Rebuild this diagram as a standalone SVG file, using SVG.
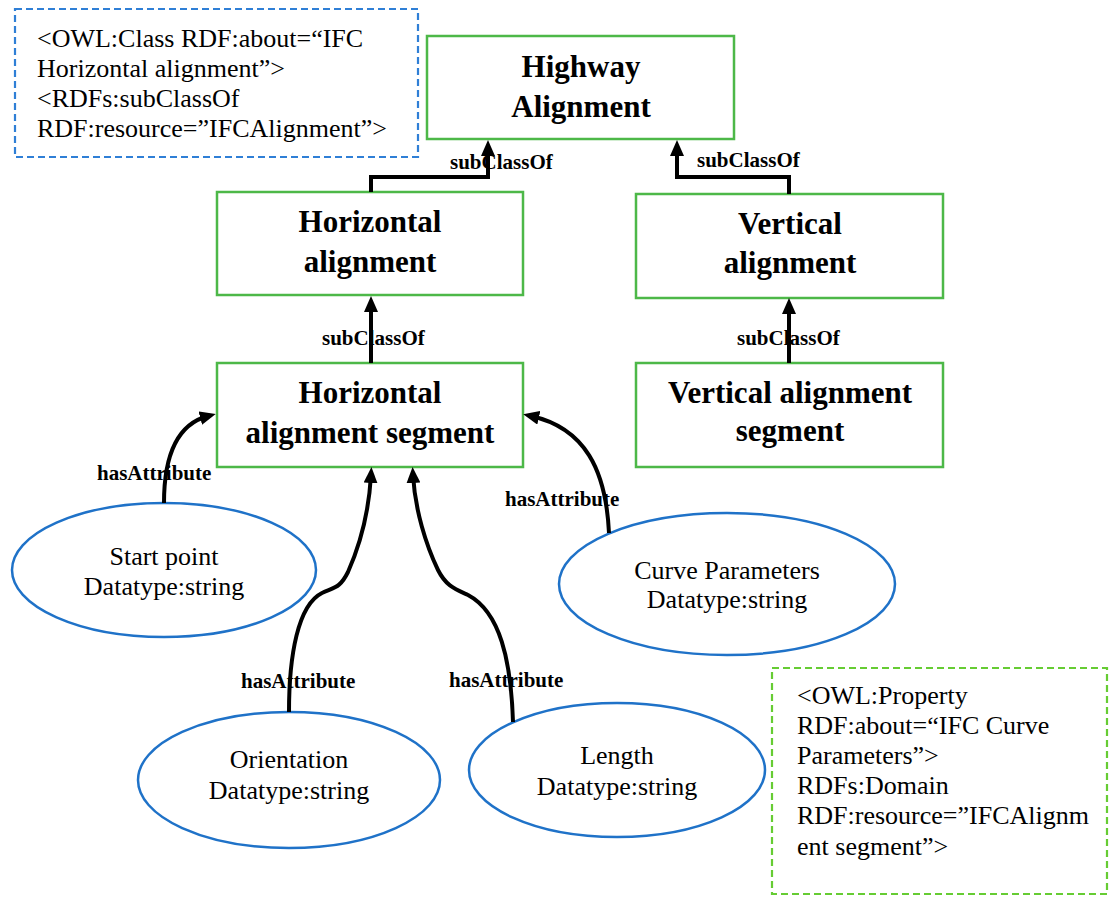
<svg xmlns="http://www.w3.org/2000/svg" width="1111" height="900" viewBox="0 0 1111 900">
  <style>
    .cls { fill: #ffffff; stroke: #4db848; stroke-width: 2.5; }
    .attr { fill: #ffffff; stroke: #1f72c8; stroke-width: 2.5; }
    .note-blue { fill: #ffffff; stroke: #2f7fd6; stroke-width: 2.2; stroke-dasharray: 7 4; }
    .note-green { fill: #ffffff; stroke: #66cc33; stroke-width: 2.2; stroke-dasharray: 7 4; }
    .title { font-family: "Liberation Serif", "Times New Roman", serif; font-weight: bold; font-size: 31px; fill: #000; text-anchor: middle; }
    .attr-text { font-family: "Liberation Serif", "Times New Roman", serif; font-size: 26px; fill: #000; text-anchor: middle; }
    .note-text { font-family: "Liberation Serif", "Times New Roman", serif; font-size: 26px; fill: #000; }
    .lbl { font-family: "Liberation Serif", "Times New Roman", serif; font-weight: bold; font-size: 21px; fill: #000; }
    .edge { fill: none; stroke: #000; stroke-width: 4; marker-end: url(#arrow); }
  </style>
  <defs>
    <marker id="arrow" viewBox="0 0 16 14" refX="8" refY="7" markerWidth="16" markerHeight="14" markerUnits="userSpaceOnUse" orient="auto">
      <path d="M0,0 L16,7 L0,14 z" fill="#000"/>
    </marker>
  </defs>

  <g id="note-class">
    <rect class="note-blue" x="15" y="9" width="403" height="148"/>
    <text class="note-text" x="37" y="47">&lt;OWL:Class RDF:about=“IFC</text>
    <text class="note-text" x="37" y="77">Horizontal alignment”&gt;</text>
    <text class="note-text" x="37" y="107">&lt;RDFs:subClassOf</text>
    <text class="note-text" x="37" y="137">RDF:resource=”IFCAlignment”&gt;</text>
  </g>

  <g id="node-highway">
    <rect class="cls" x="427" y="36" width="307" height="103"/>
    <text class="title" x="581" y="77">Highway</text>
    <text class="title" x="581" y="117">Alignment</text>
  </g>

  <g id="node-horizontal">
    <rect class="cls" x="217" y="192" width="306" height="103"/>
    <text class="title" x="370" y="232">Horizontal</text>
    <text class="title" x="370" y="272">alignment</text>
  </g>

  <g id="node-vertical">
    <rect class="cls" x="636" y="194" width="307" height="104"/>
    <text class="title" x="790" y="234">Vertical</text>
    <text class="title" x="790" y="273">alignment</text>
  </g>

  <g id="node-horizontal-segment">
    <rect class="cls" x="217" y="363" width="306" height="104"/>
    <text class="title" x="370" y="403">Horizontal</text>
    <text class="title" x="370" y="443">alignment segment</text>
  </g>

  <g id="node-vertical-segment">
    <rect class="cls" x="636" y="363" width="307" height="104"/>
    <text class="title" x="790" y="403">Vertical alignment</text>
    <text class="title" x="790" y="441">segment</text>
  </g>

  <g id="node-start-point">
    <ellipse class="attr" cx="164" cy="570" rx="152" ry="67"/>
    <text class="attr-text" x="164" y="565">Start point</text>
    <text class="attr-text" x="164" y="595">Datatype:string</text>
  </g>

  <g id="node-curve-parameters">
    <ellipse class="attr" cx="727" cy="584" rx="168" ry="71"/>
    <text class="attr-text" x="727" y="579">Curve Parameters</text>
    <text class="attr-text" x="727" y="608">Datatype:string</text>
  </g>

  <g id="node-orientation">
    <ellipse class="attr" cx="289" cy="780" rx="151" ry="68"/>
    <text class="attr-text" x="289" y="768">Orientation</text>
    <text class="attr-text" x="289" y="799">Datatype:string</text>
  </g>

  <g id="node-length">
    <ellipse class="attr" cx="617" cy="770" rx="148" ry="67"/>
    <text class="attr-text" x="617" y="764">Length</text>
    <text class="attr-text" x="617" y="795">Datatype:string</text>
  </g>

  <g id="note-property">
    <rect class="note-green" x="772" y="668" width="335" height="226"/>
    <text class="note-text" x="797" y="704">&lt;OWL:Property</text>
    <text class="note-text" x="797" y="734">RDF:about=“IFC Curve</text>
    <text class="note-text" x="797" y="764">Parameters”&gt;</text>
    <text class="note-text" x="797" y="794">RDFs:Domain</text>
    <text class="note-text" x="797" y="824">RDF:resource=”IFCAlignm</text>
    <text class="note-text" x="797" y="855">ent segment”&gt;</text>
  </g>

  <g id="connectors">
    <text class="lbl" x="450" y="169">subClassOf</text>
    <text class="lbl" x="697" y="167">subClassOf</text>
    <text class="lbl" x="322" y="345">subClassOf</text>
    <text class="lbl" x="737" y="345">subClassOf</text>
    <text class="lbl" x="97" y="480">hasAttribute</text>
    <text class="lbl" x="505" y="506">hasAttribute</text>
    <text class="lbl" x="241" y="688">hasAttribute</text>
    <text class="lbl" x="449" y="687">hasAttribute</text>

    <path class="edge" d="M371,192 L371,177 L488,177 L488,148"/>
    <path class="edge" d="M789,194 L789,177 L677,177 L677,148"/>
    <path class="edge" d="M371,363 L371,304"/>
    <path class="edge" d="M789,363 L789,306"/>
    <path class="edge" d="M164,503 C164,455 178,424 208,416"/>
    <path class="edge" d="M609,533 C606,470 585,428 531,416"/>
    <path class="edge" d="M289,712 C289,655 298,605 322,593 C335,587 340,588 348,572 C360,545 369,510 371,475"/>
    <path class="edge" d="M513,722 C511,660 500,612 468,595 C455,589 446,586 438,570 C426,545 415,510 413,475"/>
  </g>
</svg>
